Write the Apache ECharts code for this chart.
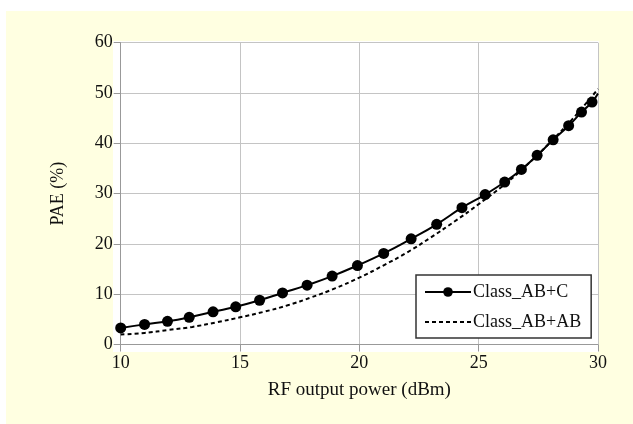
<!DOCTYPE html>
<html>
<head>
<meta charset="utf-8">
<script src="https://cdn.jsdelivr.net/npm/echarts@6/dist/echarts.min.js"></script>
<style>
html,body{margin:0;padding:0;background:#ffffff;}
#chart{width:633px;height:424px;}
</style>
</head>
<body>
<div id="chart"></div>
<script>
// Class_AB+C (solid, markers)
const abcX = [10, 11, 11.96, 12.87, 13.87, 14.82, 15.82, 16.78, 17.81, 18.86, 19.92, 21.02, 22.17, 23.24, 24.3, 25.27, 26.09, 26.79, 27.45, 28.12, 28.77, 29.31, 29.75];
const abcY = [3.3, 4.0, 4.6, 5.4, 6.5, 7.5, 8.8, 10.25, 11.8, 13.6, 15.7, 18.1, 21.0, 23.9, 27.2, 29.8, 32.3, 34.8, 37.6, 40.7, 43.5, 46.2, 48.2];
const abcEnd = [30, 49.9];
// Class_AB+AB (dashed)
const ababX = [10, 11, 12, 13, 14, 15, 16, 17, 18, 19, 20, 21, 22, 23, 24, 25, 26, 27, 28, 29, 30];
const ababY = [2.0, 2.3, 2.9, 3.5, 4.4, 5.4, 6.5, 7.8, 9.4, 11.2, 13.3, 15.7, 18.3, 21.3, 24.5, 27.9, 31.5, 35.6, 40.2, 45.2, 50.8];
const seriesNames = ['Class_AB+C', 'Class_AB+AB'];
const xTicks = [10, 15, 20, 25, 30];
const yTicks = [0, 10, 20, 30, 40, 50, 60];

const FONT = '"Liberation Serif", "Times New Roman", serif';
const chart = echarts.init(document.getElementById('chart'), null, {renderer: 'canvas'});

const abcData = abcX.map((x, i) => [x, abcY[i]]);
abcData.push({value: abcEnd, symbol: 'none'});
const ababData = ababX.map((x, i) => [x, ababY[i]]);

chart.setOption({
  backgroundColor: '#ffffff',
  animation: false,
  graphic: [
    {type: 'rect', shape: {x: 6, y: 11, width: 627, height: 413}, style: {fill: '#FFFFE1'}, z: -20, silent: true},
    {type: 'rect', shape: {x: 113, y: 41, width: 486, height: 311}, style: {fill: '#ffffff'}, z: -10, silent: true}
  ],
  grid: {left: 120.7, right: 35, top: 42.7, bottom: 79.5, show: false},
  legend: {
    orient: 'vertical',
    left: 416, top: 275,
    padding: [8, 10, 7, 8],
    backgroundColor: '#ffffff',
    borderColor: '#333333',
    borderWidth: 1.5,
    borderRadius: 0,
    itemWidth: 46,
    itemHeight: 12,
    itemGap: 12,
    textStyle: {fontFamily: FONT, fontSize: 18, color: '#111', padding: [0, 0, 0, -3]},
    data: seriesNames
  },
  xAxis: {
    type: 'value',
    min: 10, max: 30, interval: 5,
    name: 'RF output power (dBm)',
    nameLocation: 'middle',
    nameGap: 36,
    nameTextStyle: {fontFamily: FONT, fontSize: 19, color: '#111'},
    axisLine: {show: true, lineStyle: {color: '#999', width: 1}},
    axisTick: {show: true, length: 7, lineStyle: {color: '#999'}},
    axisLabel: {fontFamily: FONT, fontSize: 18, color: '#111', margin: 10,
      formatter: v => xTicks.includes(v) ? String(v) : ''},
    splitLine: {show: true, lineStyle: {color: '#c4c4c4', width: 1}}
  },
  yAxis: {
    type: 'value',
    min: 0, max: 60, interval: 10,
    name: 'PAE (%)',
    nameLocation: 'middle',
    nameGap: 53,
    nameTextStyle: {fontFamily: FONT, fontSize: 18, color: '#111'},
    axisLine: {show: true, lineStyle: {color: '#999', width: 1}},
    axisTick: {show: true, length: 7, lineStyle: {color: '#999'}},
    axisLabel: {fontFamily: FONT, fontSize: 18, color: '#111', margin: 8,
      formatter: v => yTicks.includes(v) ? String(v) : ''},
    splitLine: {show: true, lineStyle: {color: '#c4c4c4', width: 1}}
  },
  series: [
    {
      name: seriesNames[0],
      type: 'line',
      data: abcData,
      smooth: true,
      symbol: 'circle',
      symbolSize: 11,
      showSymbol: true,
      lineStyle: {color: '#000', width: 2},
      itemStyle: {color: '#000'},
      z: 3
    },
    {
      name: seriesNames[1],
      type: 'line',
      data: ababData,
      smooth: true,
      symbol: 'none',
      lineStyle: {color: '#000', width: 2, type: [4, 3]},
      itemStyle: {color: 'rgba(0,0,0,0)', borderWidth: 0},
      z: 2
    }
  ]
});
</script>
</body>
</html>
